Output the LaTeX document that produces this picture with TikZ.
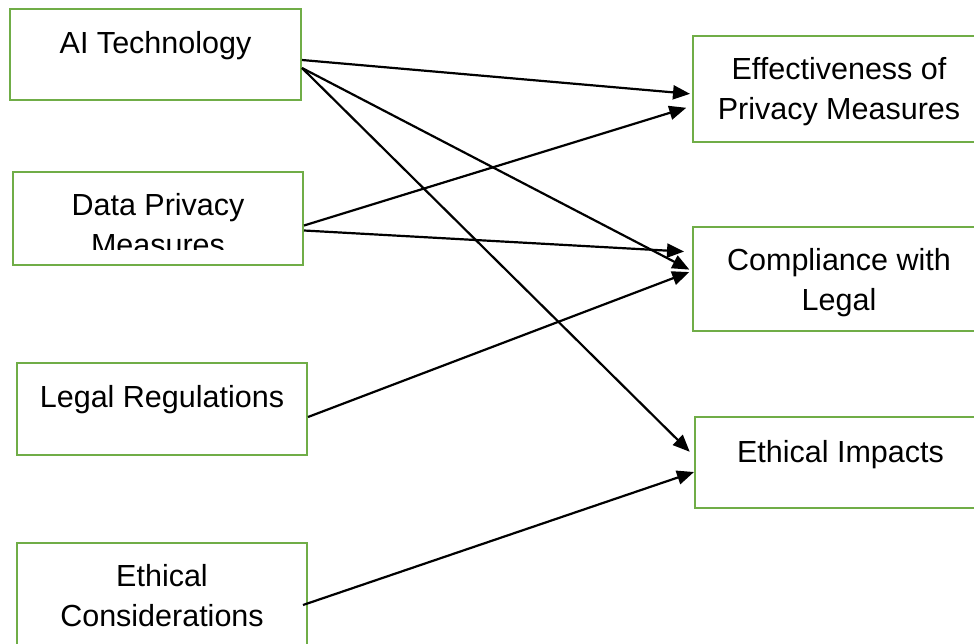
\documentclass[tikz,border=0pt]{standalone}
\usepackage{fontspec}
\setmainfont{Liberation Sans}
\usetikzlibrary{positioning,arrows.meta}
\definecolor{boxgreen}{RGB}{112,173,71}
\tikzset{
  box/.style={draw=boxgreen,line width=2pt,rectangle,inner sep=0pt,minimum width=291pt,minimum height=91pt},
  boxtext/.style={align=center,inner sep=0pt,font=\fontsize{30.5}{40}\selectfont},
  conn/.style={line width=2.2pt,-{Triangle[length=17pt,width=14pt]}}
}
\begin{document}
\begin{tikzpicture}[x=1pt,y=-1pt]
\useasboundingbox (0,0) rectangle (974,643);
% left column
\node[box] at (155.5,54) (ai) {};
\node[boxtext,below=24pt of ai.north] (aitext) {AI Technology};
\node[box,minimum width=290pt,minimum height=93pt] at (158,218.5) (dp) {};
\begin{scope}
\clip (0,172) rectangle (974,249);
\node[boxtext,below=22pt of dp.north] (dptext) {Data Privacy\\Measures};
\end{scope}
\node[box,minimum width=290pt,minimum height=92pt] at (162,409) (legal) {};
\node[boxtext,below=23pt of legal.north] (legaltext) {Legal Regulations};
\node[box,minimum width=290pt,minimum height=107pt] at (162,596.5) (ethcons) {};
\node[boxtext,below=22pt of ethcons.north] (ethconstext) {Ethical\\Considerations};
% right column
\node[box,minimum width=292pt,minimum height=106pt] at (839,89) (eff) {};
\node[boxtext,below=22pt of eff.north] (efftext) {Effectiveness of\\Privacy Measures};
\node[box,minimum width=292pt,minimum height=104pt] at (839,279) (comp) {};
\node[boxtext,below=22pt of comp.north] (comptext) {Compliance with\\Legal};
\node[box,minimum width=291pt,minimum height=91pt] at (840.5,462.5) (ethimp) {};
\node[boxtext,below=24pt of ethimp.north] (ethimptext) {Ethical Impacts};
% connectors
\draw[conn,shorten >=2pt] ([yshift=-6pt]ai.east) -- ([yshift=-5pt]eff.west);
\draw[conn,shorten >=3pt] ([yshift=-14pt]ai.east) -- ([yshift=8pt]comp.west);
\draw[conn,shorten >=6pt] ([yshift=-14pt]ai.east) -- ([yshift=6.5pt]ethimp.west);
\draw[conn,shorten >=6pt] ([yshift=-7pt]dp.east) -- ([yshift=-17pt]eff.west);
\draw[conn,shorten >=8pt] ([yshift=-12pt]dp.east) -- ([yshift=27pt]comp.west);
\draw[conn,shorten >=3pt] ([yshift=-8pt]legal.east) -- ([yshift=8pt]comp.west);
\draw[conn] ([xshift=-5pt,yshift=-8.5pt]ethcons.east) -- ([yshift=-9.5pt]ethimp.west);
\end{tikzpicture}
\end{document}
